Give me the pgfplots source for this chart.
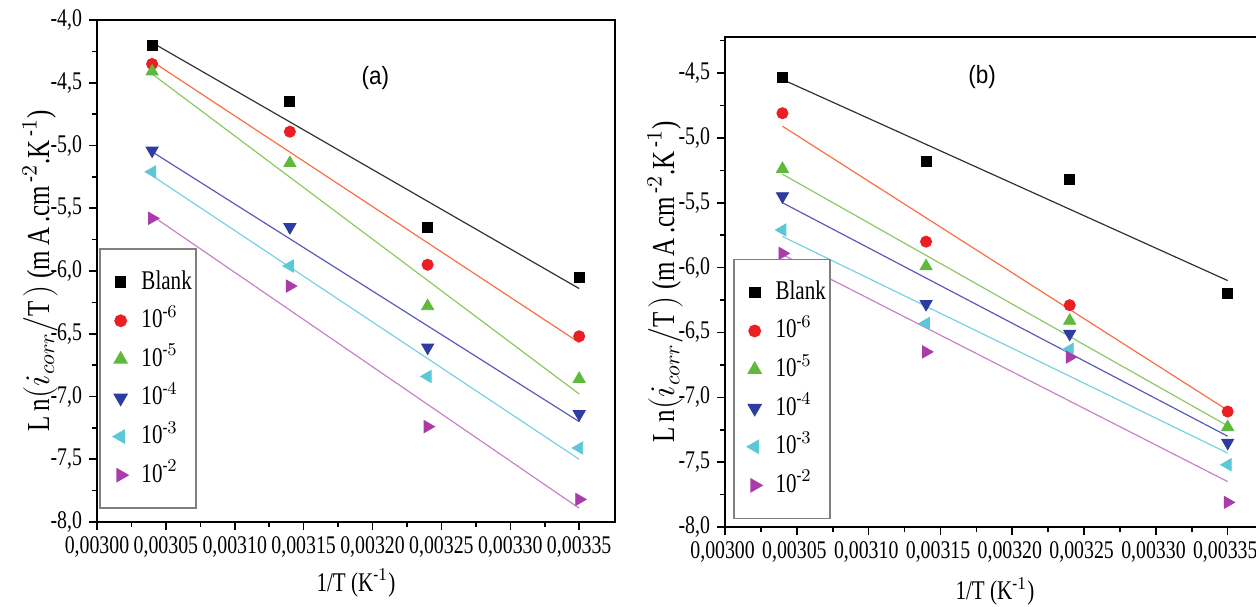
\documentclass[border=0pt]{standalone}
\usepackage{amsmath}
\usepackage{fontspec}
\setmainfont{Liberation Serif}[FakeStretch=0.78]
\newfontfamily\arialf{Liberation Sans}[FakeStretch=0.9]
\usepackage{pgfplots}
\pgfplotsset{compat=1.18}
\definecolor{cR}{RGB}{235,30,35}
\definecolor{cG}{RGB}{95,185,60}
\definecolor{cB}{RGB}{45,60,160}
\definecolor{cC}{RGB}{90,200,215}
\definecolor{cM}{RGB}{170,60,170}
\definecolor{lK}{RGB}{50,50,50}
\definecolor{lR}{RGB}{250,110,70}
\definecolor{lG}{RGB}{140,200,100}
\definecolor{lB}{RGB}{90,90,190}
\definecolor{lC}{RGB}{120,210,225}
\definecolor{lM}{RGB}{200,130,200}
\pgfplotsset{
  myax/.style={
    scale only axis,
    axis line style={line width=1pt},
    tick style={line width=0.8pt, black},
    tick pos=left, tick align=outside,
    major tick length=4pt, minor tick length=2.5pt,
    minor x tick num=1, minor y tick num=1,
    xmin=0.003, xmax=0.003376,
    xtick={0.00300,0.00305,0.00310,0.00315,0.00320,0.00325,0.00330,0.00335},
    scaled x ticks=false, scaled y ticks=false,
    xticklabel style={/pgf/number format/.cd, fixed, fixed zerofill, precision=5, use comma},
    yticklabel style={/pgf/number format/.cd, fixed, fixed zerofill, precision=1, use comma},
    /pgf/number format/assume math mode=true,
    tick label style={font=\fontsize{12.7}{15}\selectfont},
    xlabel style={font=\fontsize{13.5}{15}\selectfont},
    ylabel style={font=\fontsize{16}{18}\selectfont},
    xlabel={1/T (K$^{\text{-}1}$)},
    ylabel={L\,n$(i_{corr}/\mathrm{T})$ (m\,A\,.cm$^{\,\text{-}2}$.K$^{\,\text{-}1}$)},
    legend style={draw=gray, line width=0.8pt, inner xsep=0pt, inner ysep=9pt,
      font=\fontsize{13.5}{15}\selectfont, row sep=4.3pt,
      nodes={inner sep=2pt, text height=9pt, text depth=2pt}},
    legend cell align=left,
  },
  lgimg/.style={legend image code/.code={\path (0pt,0pt) (18pt,0pt); \draw[##1, mark repeat=2, mark phase=2] plot coordinates {(0pt,0pt) (10pt,0pt) (20pt,0pt)};}},
  sK/.style={only marks, mark=square*, mark size=2.5pt, color=black, lgimg},
  sR/.style={only marks, mark=*, mark size=2.8pt, color=cR, lgimg},
  sG/.style={only marks, mark=triangle*, mark size=3.5pt, color=cG, lgimg},
  sB/.style={only marks, mark=triangle*, mark size=3.5pt, color=cB, mark options={rotate=180}, lgimg},
  sC/.style={only marks, mark=triangle*, mark size=3.5pt, color=cC, mark options={rotate=90}, lgimg},
  sM/.style={only marks, mark=triangle*, mark size=3.5pt, color=cM, mark options={rotate=-90}, lgimg},
  fl/.style={no marks, line width=0.6pt, forget plot},
}
\begin{document}
\begin{tikzpicture}
\useasboundingbox (0,-303pt) rectangle (628pt,0);
% ---------------- (a)
\begin{axis}[myax, at={(48.5pt,-261pt)}, anchor=south west,
  width=259pt, height=251pt,
  ymin=-8, ymax=-4, ytick={-8,-7.5,-7,-6.5,-6,-5.5,-5,-4.5,-4},
  xlabel style={at={(axis description cs:0.5,-0.122)}, anchor=center},
  ylabel style={at={(axis description cs:-0.11,0.5)}, anchor=center, rotate=0},
  legend style={at={(0.004,0.026)}, anchor=south west}]
\addplot[fl, lK] coordinates {(0.00304,-4.18) (0.00335,-6.14)};
\addplot[fl, lR] coordinates {(0.00304,-4.33) (0.00335,-6.57)};
\addplot[fl, lG] coordinates {(0.00304,-4.43) (0.00335,-6.98)};
\addplot[fl, lB] coordinates {(0.00304,-5.05) (0.00335,-7.20)};
\addplot[fl, lC] coordinates {(0.00304,-5.24) (0.00335,-7.50)};
\addplot[fl, lM] coordinates {(0.00304,-5.56) (0.00335,-7.89)};
\addplot[sK] coordinates {(0.00304,-4.20) (0.00314,-4.65) (0.00324,-5.655) (0.00335,-6.05)};
\addlegendentry{Blank}
\addplot[sR] coordinates {(0.00304,-4.35) (0.00314,-4.89) (0.00324,-5.95) (0.00335,-6.52)};
\addlegendentry{10$^{\text{-}6}$}
\addplot[sG] coordinates {(0.00304,-4.41) (0.00314,-5.14) (0.00324,-6.28) (0.00335,-6.86)};
\addlegendentry{10$^{\text{-}5}$}
\addplot[sB] coordinates {(0.00304,-5.04) (0.00314,-5.65) (0.00324,-6.61) (0.00335,-7.14)};
\addlegendentry{10$^{\text{-}4}$}
\addplot[sC] coordinates {(0.00304,-5.21) (0.00314,-5.96) (0.00324,-6.84) (0.00335,-7.41)};
\addlegendentry{10$^{\text{-}3}$}
\addplot[sM] coordinates {(0.00304,-5.58) (0.00314,-6.12) (0.00324,-7.24) (0.00335,-7.82)};
\addlegendentry{10$^{\text{-}2}$}
\node[font=\arialf\fontsize{12.5}{14}\selectfont] at (axis cs:0.003202,-4.46) {(a)};
\end{axis}
% ---------------- (b)
\begin{axis}[myax, at={(362.5pt,-263.5pt)}, anchor=south west,
  width=270pt, height=245pt,
  ymin=-8, ymax=-4.2224, ytick={-8,-7.5,-7,-6.5,-6,-5.5,-5,-4.5,-4},
  xticklabel style={/tikz/xshift=-1.2pt},
  xlabel style={at={(axis description cs:0.5,-0.132)}, anchor=center},
  ylabel style={at={(axis description cs:-0.111,0.5)}, anchor=center, rotate=0},
  legend style={at={(0.015,0.016)}, anchor=south west}]
\addplot[fl, lK] coordinates {(0.00304,-4.55) (0.00335,-6.10)};
\addplot[fl, lR] coordinates {(0.00304,-4.91) (0.00335,-7.10)};
\addplot[fl, lG] coordinates {(0.00304,-5.28) (0.00335,-7.22)};
\addplot[fl, lB] coordinates {(0.00304,-5.50) (0.00335,-7.30)};
\addplot[fl, lC] coordinates {(0.00304,-5.76) (0.00335,-7.43)};
\addplot[fl, lM] coordinates {(0.00304,-5.90) (0.00335,-7.65)};
\addplot[sK] coordinates {(0.00304,-4.53) (0.00314,-5.18) (0.00324,-5.32) (0.00335,-6.20)};
\addlegendentry{Blank}
\addplot[sR] coordinates {(0.00304,-4.81) (0.00314,-5.80) (0.00324,-6.29) (0.00335,-7.11)};
\addlegendentry{10$^{\text{-}6}$}
\addplot[sG] coordinates {(0.00304,-5.24) (0.00314,-5.99) (0.00324,-6.41) (0.00335,-7.23)};
\addlegendentry{10$^{\text{-}5}$}
\addplot[sB] coordinates {(0.00304,-5.45) (0.00314,-6.28) (0.00324,-6.51) (0.00335,-7.35)};
\addlegendentry{10$^{\text{-}4}$}
\addplot[sC] coordinates {(0.00304,-5.71) (0.00314,-6.43) (0.00324,-6.63) (0.00335,-7.52)};
\addlegendentry{10$^{\text{-}3}$}
\addplot[sM] coordinates {(0.00304,-5.89) (0.00314,-6.65) (0.00324,-6.69) (0.00335,-7.81)};
\addlegendentry{10$^{\text{-}2}$}
\node[font=\arialf\fontsize{12.5}{14}\selectfont] at (axis cs:0.003179,-4.53) {(b)};
\end{axis}
\end{tikzpicture}
\end{document}
